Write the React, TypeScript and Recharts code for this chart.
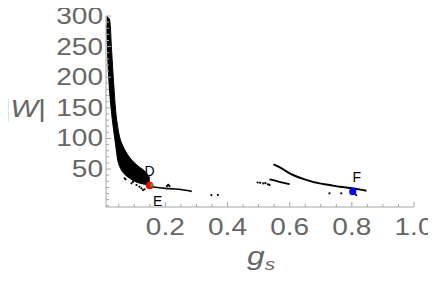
import React from "react";
import { ComposedChart, Area, Line, Scatter, XAxis, YAxis } from "recharts";

// tick values
const xMajor = [0.2, 0.4, 0.6, 0.8, 1.0];
const xMinor = [0.05, 0.1, 0.15, 0.25, 0.3, 0.35, 0.45, 0.5, 0.55, 0.65, 0.7, 0.75, 0.85, 0.9, 0.95];
const yMajor = [50, 100, 150, 200, 250, 300];
const yMinor = [-10, 0, 10, 20, 30, 40, 60, 70, 80, 90, 110, 120, 130, 140, 160, 170, 180, 190, 210, 220, 230, 240, 260, 270, 280, 290];

// dense band of solutions (lower / upper edge at each g_s)
const bandX = [0.011, 0.015, 0.021, 0.027, 0.034, 0.04, 0.047, 0.053, 0.063, 0.072, 0.085, 0.101, 0.117, 0.133, 0.15];
const bandLow = [285, 228, 174, 141, 112, 89, 64, 54, 45, 40, 35, 30, 27, 25, 21];
const bandHigh = [300, 298, 293, 244, 187, 146, 118, 102, 88, 79, 69, 60, 53, 47, 36];

// thin tail after D
const tailX = [0.15, 0.16, 0.18, 0.2, 0.23, 0.25, 0.27, 0.285];
const tailY = [23, 21, 19.5, 18.5, 17.5, 16.5, 15, 13.5];

// right-hand branches
const upperX = [0.548, 0.567, 0.6, 0.648, 0.696, 0.728, 0.761, 0.802, 0.847];
const upperY = [57.7, 53.3, 43, 33.2, 26.6, 23.9, 21.1, 18.5, 14.5];
const lowerX = [0.535, 0.55, 0.567, 0.585, 0.6];
const lowerY = [33, 31.5, 29, 27, 25.5];

// isolated points
const dotX = [0.069, 0.072, 0.091, 0.096, 0.107, 0.117, 0.123, 0.128, 0.133, 0.205, 0.209, 0.213, 0.348, 0.369, 0.497, 0.505, 0.515, 0.522, 0.53, 0.535, 0.728, 0.766, 0.814];
const dotY = [34.8, 33.2, 26.6, 29.2, 23.9, 21.1, 18.5, 15.7, 16.8, 22, 24, 22.5, 7.5, 7.5, 28, 27.5, 26.5, 27, 25, 24, 10.3, 10.3, 7.5];

// labelled points
const markerNames = ["D", "E", "F"];
const markerX = [0.1495, 0.156, 0.803];
const markerY = [23, 24, 13];

const markerStyle: Record<string, { color: string; r: number; dx: number; dy: number }> = {
  D: { color: "#ff0000", r: 3.8, dx: 0, dy: -10 },
  E: { color: "#33aa33", r: 1.8, dx: 6, dy: 21 },
  F: { color: "#0000ff", r: 3.6, dx: 4, dy: -10 },
};

const FONT = "'Liberation Sans', Arial, sans-serif";
const FRAME = "#a6a6a6";
const TEXT = "#666666";
const SX = 1.22;

const bandData = bandX.map((x, i) => ({ x, band: [bandLow[i], bandHigh[i]] }));
const pts = (xs: number[], ys: number[]) => xs.map((x, i) => ({ x, y: ys[i] }));
const isIn = (arr: number[], v: number) => arr.some((a) => Math.abs(a - v) < 1e-9);

const xTicks = [...xMinor, ...xMajor].sort((a, b) => a - b);
const yTicks = [...yMinor, ...yMajor].sort((a, b) => a - b);

function BottomTick({ x, y, payload }: any) {
  const major = isIn(xMajor, payload.value);
  return (
    <g>
      <line x1={x} x2={x} y1={y} y2={y - (major ? 5 : 3)} stroke={FRAME} />
      {major && (
        <text transform={`translate(${x},${y + 28}) scale(${SX},1)`} textAnchor="middle" fontSize={23} fill={TEXT} fontFamily={FONT}>
          {payload.value.toFixed(1)}
        </text>
      )}
    </g>
  );
}

function TopTick({ x, y, payload }: any) {
  const major = isIn(xMajor, payload.value);
  return <line x1={x} x2={x} y1={y} y2={y + (major ? 5 : 3)} stroke={FRAME} />;
}

function LeftTick({ x, y, payload }: any) {
  const major = isIn(yMajor, payload.value);
  return (
    <g>
      <line x1={x} x2={x + (major ? 5 : 3)} y1={y} y2={y} stroke={FRAME} />
      {major && (
        <text transform={`translate(${x - 3},${y + 8}) scale(${SX},1)`} textAnchor="end" fontSize={23} fill={TEXT} fontFamily={FONT}>
          {payload.value}
        </text>
      )}
    </g>
  );
}

function RightTick({ x, y, payload }: any) {
  const major = isIn(yMajor, payload.value);
  return <line x1={x} x2={x - (major ? 5 : 3)} y1={y} y2={y} stroke={FRAME} />;
}

const Dot = ({ cx, cy }: any) => <circle cx={cx} cy={cy} r={1.1} fill="#000" />;

function makeMarker(name: string) {
  const s = markerStyle[name];
  return ({ cx, cy }: any) => (
    <g>
      <circle cx={cx} cy={cy} r={s.r} fill={s.color} />
      <text x={cx + s.dx} y={cy + s.dy} textAnchor="middle" fontSize={14} fill="#000" fontFamily={FONT}>
        {name}
      </text>
    </g>
  );
}

export default function App() {
  const W = 436;
  const H = 277;
  return (
    <div style={{ position: "relative", width: W, height: H, margin: "-8px 0 0 -8px" }}>
      <ComposedChart width={W} height={H} data={bandData} margin={{ top: 16, right: 22, bottom: 0, left: 0 }}>
        <XAxis
          dataKey="x"
          type="number"
          domain={[0.009, 1]}
          allowDataOverflow
          ticks={xTicks}
          interval={0}
          height={70}
          tickSize={0}
          tickMargin={0}
          axisLine={{ stroke: FRAME }}
          tick={<BottomTick />}
        />
        <XAxis
          xAxisId="top"
          orientation="top"
          dataKey="x"
          type="number"
          domain={[0.009, 1]}
          allowDataOverflow
          ticks={xTicks}
          interval={0}
          height={0}
          tickSize={0}
          tickMargin={0}
          axisLine={{ stroke: FRAME }}
          tick={<TopTick />}
        />
        <YAxis
          type="number"
          domain={[-12, 300]}
          allowDataOverflow
          ticks={yTicks}
          interval={0}
          width={106}
          tickSize={0}
          tickMargin={0}
          axisLine={{ stroke: FRAME }}
          tick={<LeftTick />}
        />
        <YAxis
          yAxisId="right"
          orientation="right"
          type="number"
          domain={[-12, 300]}
          allowDataOverflow
          ticks={yTicks}
          interval={0}
          width={0}
          tickSize={0}
          tickMargin={0}
          axisLine={{ stroke: FRAME }}
          tick={<RightTick />}
        />
        <Area dataKey="band" type="monotone" stroke="#000" strokeWidth={1} fill="#000" fillOpacity={1} isAnimationActive={false} />
        <Line data={pts(tailX, tailY)} dataKey="y" type="monotone" stroke="#000" strokeWidth={1.6} dot={false} isAnimationActive={false} />
        <Line data={pts(upperX, upperY)} dataKey="y" type="monotone" stroke="#000" strokeWidth={2} dot={false} isAnimationActive={false} />
        <Line data={pts(lowerX, lowerY)} dataKey="y" type="monotone" stroke="#000" strokeWidth={1.8} dot={false} isAnimationActive={false} />
        <Scatter data={pts(dotX, dotY)} dataKey="y" shape={<Dot />} isAnimationActive={false} />
        {markerNames.map((n, i) => (
          <Scatter key={n} data={[{ x: markerX[i], y: markerY[i] }]} dataKey="y" shape={makeMarker(n)} isAnimationActive={false} />
        ))}
      </ComposedChart>
      <svg width={W} height={H} style={{ position: "absolute", left: 0, top: 0, pointerEvents: "none" }}>
        <text transform={`translate(3,117) scale(${SX},1)`} fontSize={24} fill={TEXT} fontFamily={FONT}>
          |<tspan fontStyle="italic">W</tspan>|
        </text>
        <text transform={`translate(247,265) scale(${SX},1)`} fontSize={26} fill={TEXT} fontFamily={FONT} fontStyle="italic">
          g<tspan fontSize={17} dy={5}>s</tspan>
        </text>
      </svg>
    </div>
  );
}
